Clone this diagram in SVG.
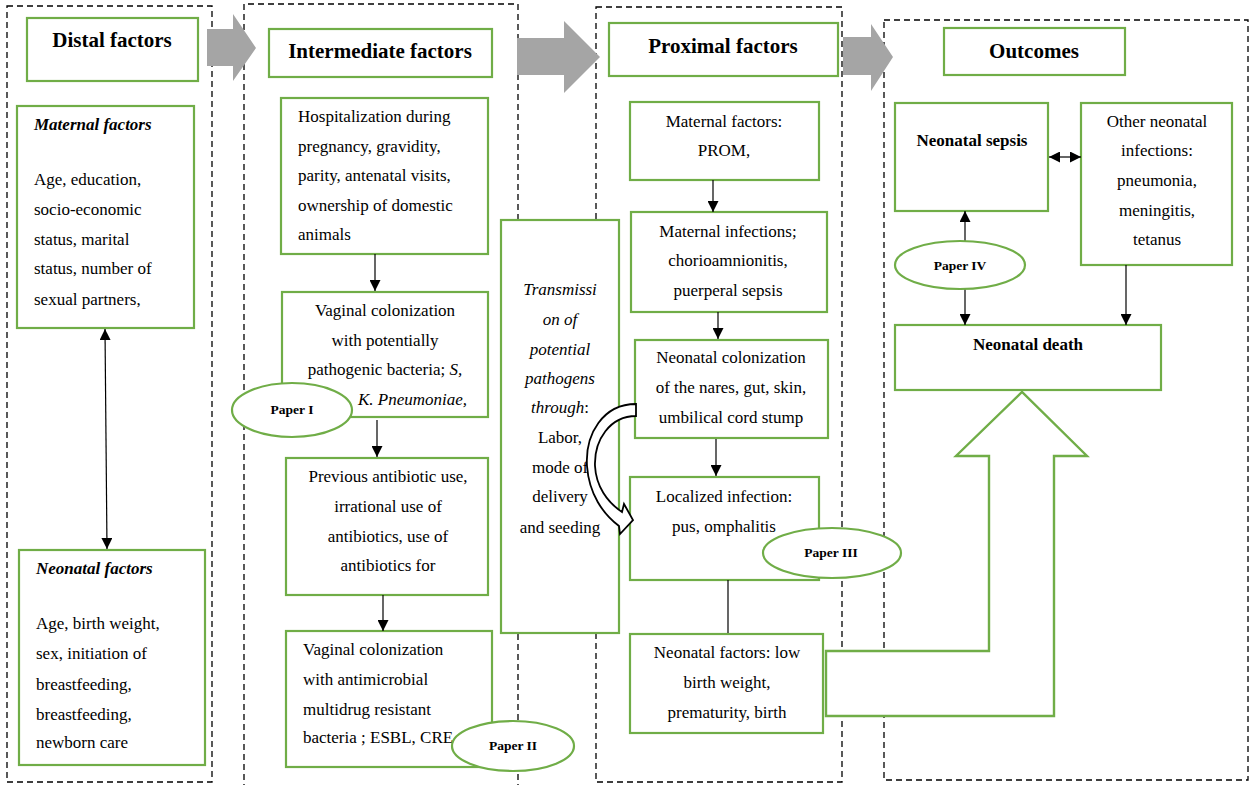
<svg xmlns="http://www.w3.org/2000/svg" width="1250" height="785" viewBox="0 0 1250 785">
<style>
text{font-family:"Liberation Serif","Times New Roman",serif;fill:#000}
.b{font-size:17px}
.h{font-size:21px;font-weight:bold}
.bb{font-size:17px;font-weight:bold}
.bi{font-size:17px;font-weight:bold;font-style:italic}
.i{font-style:italic}
.p{font-size:13.5px;font-weight:bold}
.m{text-anchor:middle}
.box{fill:#fff;stroke:#70AD47;stroke-width:2.2}
.dash{fill:none;stroke:#000;stroke-width:1.3;stroke-dasharray:6 4}
.gray{fill:#A5A5A5}
.ln{stroke:#000;stroke-width:1.2;fill:none}
</style>
<defs>
<marker id="ah" viewBox="0 0 10 10" refX="10" refY="5" markerUnits="userSpaceOnUse" markerWidth="11" markerHeight="11" orient="auto-start-reverse">
<path d="M0,0 L10,5 L0,10 z" fill="#000"/>
</marker>
</defs>
<rect width="1250" height="785" fill="#fff"/>

<g id="containers">
<rect class="dash" x="7" y="6" width="205" height="776"/>
<path class="dash" d="M244,790 V4 H518 V790"/>
<rect class="dash" x="596" y="7" width="246" height="775"/>
<rect class="dash" x="884" y="20" width="364" height="760"/>
</g>

<g id="stage-arrows">
<polygon class="gray" points="207,29 233,29 233,14 256,48 233,81 233,66 207,66"/>
<polygon class="gray" points="517,38 564,38 564,21 600,57 564,93 564,75 517,75"/>
<polygon class="gray" points="843,37 871,37 871,24 893,57 871,91 871,75 843,75"/>
</g>

<g id="hdr-distal"><rect class="box" x="27" y="18" width="171" height="63"/><text class="h m" x="112" y="47">Distal factors</text></g>
<g id="hdr-intermediate"><rect class="box" x="269" y="29" width="223" height="48"/><text class="h m" x="380" y="58">Intermediate factors</text></g>
<g id="hdr-proximal"><rect class="box" x="609" y="23" width="229" height="53"/><text class="h m" x="723" y="53">Proximal factors</text></g>
<g id="hdr-outcomes"><rect class="box" x="944" y="28" width="181" height="47"/><text class="h m" x="1034" y="58">Outcomes</text></g>

<g id="maternal-distal">
<rect class="box" x="17" y="106" width="177" height="222"/>
<text class="bi" x="34" y="130">Maternal factors</text>
<text class="b" x="34"><tspan x="34" y="185">Age, education,</tspan><tspan x="34" y="215">socio-economic</tspan><tspan x="34" y="245">status, marital</tspan><tspan x="34" y="274">status, number of</tspan><tspan x="34" y="305">sexual partners,</tspan></text>
</g>
<g id="neonatal-distal">
<rect class="box" x="19" y="550" width="186" height="215"/>
<text class="bi" x="36" y="574">Neonatal factors</text>
<text class="b" x="36"><tspan x="36" y="629">Age, birth weight,</tspan><tspan x="36" y="659">sex, initiation of</tspan><tspan x="36" y="690">breastfeeding,</tspan><tspan x="36" y="720">breastfeeding,</tspan><tspan x="36" y="748">newborn care</tspan></text>
</g>

<g id="hospitalization">
<rect class="box" x="281" y="98" width="207" height="156"/>
<text class="b" x="298"><tspan x="298" y="122">Hospitalization during</tspan><tspan x="298" y="152">pregnancy, gravidity,</tspan><tspan x="298" y="181">parity, antenatal visits,</tspan><tspan x="298" y="211">ownership of domestic</tspan><tspan x="298" y="240">animals</tspan></text>
</g>
<g id="vaginal-colonization">
<rect class="box" x="282" y="292" width="206" height="125"/>
<text class="b m" x="385" y="316">Vaginal colonization</text>
<text class="b m" x="385" y="346">with potentially</text>
<text class="b m" x="385" y="375">pathogenic bacteria; <tspan class="i">S,</tspan></text>
<text class="b i" x="358" y="405">K. Pneumoniae,</text>
</g>
<g id="antibiotic-use">
<rect class="box" x="286" y="458" width="202" height="137"/>
<text class="b m" x="388" y="482">Previous antibiotic use,</text>
<text class="b m" x="388" y="512">irrational use of</text>
<text class="b m" x="388" y="542">antibiotics, use of</text>
<text class="b m" x="388" y="571">antibiotics for</text>
</g>
<g id="mdr-colonization">
<rect class="box" x="286" y="631" width="206" height="136"/>
<text class="b" x="303"><tspan x="303" y="655">Vaginal colonization</tspan><tspan x="303" y="685">with antimicrobial</tspan><tspan x="303" y="715">multidrug resistant</tspan><tspan x="303" y="743">bacteria ; ESBL, CRE</tspan></text>
</g>

<g id="transmission">
<rect class="box" x="501" y="220" width="118" height="413" stroke-width="2.6"/>
<text class="b m i" x="560" y="295">Transmissi</text>
<text class="b m i" x="560" y="325">on of</text>
<text class="b m i" x="560" y="355">potential</text>
<text class="b m i" x="560" y="384">pathogens</text>
<text class="b m" x="560" y="413"><tspan class="i">through</tspan>:</text>
<text class="b m" x="560" y="443">Labor,</text>
<text class="b m" x="560" y="473">mode of</text>
<text class="b m" x="560" y="502">delivery</text>
<text class="b m" x="560" y="533">and seeding</text>
</g>

<g id="prom">
<rect class="box" x="630" y="102" width="189" height="78"/>
<text class="b m" x="724" y="127">Maternal factors:</text>
<text class="b m" x="724" y="156">PROM,</text>
</g>
<g id="maternal-infections">
<rect class="box" x="631" y="212" width="196" height="100"/>
<text class="b m" x="728" y="237">Maternal infections;</text>
<text class="b m" x="728" y="266">chorioamnionitis,</text>
<text class="b m" x="728" y="296">puerperal sepsis</text>
</g>
<g id="neonatal-colonization">
<rect class="box" x="635" y="340" width="193" height="98"/>
<text class="b m" x="731" y="363">Neonatal colonization</text>
<text class="b m" x="731" y="393">of the nares, gut, skin,</text>
<text class="b m" x="731" y="423">umbilical cord stump</text>
</g>
<g id="localized-infection">
<rect class="box" x="630" y="477" width="189" height="103"/>
<text class="b m" x="724" y="502">Localized infection:</text>
<text class="b m" x="724" y="532">pus, omphalitis</text>
</g>
<g id="neonatal-factors-prox">
<rect class="box" x="630" y="634" width="193" height="99"/>
<text class="b m" x="727" y="658">Neonatal factors: low</text>
<text class="b m" x="727" y="688">birth weight,</text>
<text class="b m" x="727" y="718">prematurity, birth</text>
</g>

<g id="big-arrow">
<polygon points="826,651 989,651 989,456 956,456 1022,392 1087,456 1054,456 1054,716 826,716" fill="#fff" stroke="#70AD47" stroke-width="2.4" stroke-linejoin="miter"/>
</g>

<g id="neonatal-sepsis">
<rect class="box" x="895" y="103" width="153" height="108"/>
<text class="bb m" x="972" y="146">Neonatal sepsis</text>
</g>
<g id="other-infections">
<rect class="box" x="1081" y="103" width="151" height="162"/>
<text class="b m" x="1157" y="127">Other neonatal</text>
<text class="b m" x="1157" y="156">infections:</text>
<text class="b m" x="1157" y="186">pneumonia,</text>
<text class="b m" x="1157" y="216">meningitis,</text>
<text class="b m" x="1157" y="245">tetanus</text>
</g>
<g id="neonatal-death">
<rect class="box" x="895" y="325" width="266" height="65"/>
<text class="bb m" x="1028" y="350">Neonatal death</text>
</g>

<g id="connectors">
<line class="ln" x1="105" y1="329" x2="107" y2="549" marker-start="url(#ah)" marker-end="url(#ah)"/>
<line class="ln" x1="375" y1="254" x2="375" y2="291" marker-end="url(#ah)"/>
<line class="ln" x1="377" y1="420" x2="377" y2="457" marker-end="url(#ah)"/>
<line class="ln" x1="383" y1="595" x2="383" y2="631" marker-end="url(#ah)"/>
<line class="ln" x1="713" y1="180" x2="713" y2="212" marker-end="url(#ah)"/>
<line class="ln" x1="718" y1="312" x2="718" y2="339" marker-end="url(#ah)"/>
<line class="ln" x1="716" y1="439" x2="716" y2="476" marker-end="url(#ah)"/>
<line class="ln" x1="728" y1="580" x2="728" y2="633"/>
<line class="ln" x1="1049" y1="157" x2="1081" y2="157" marker-start="url(#ah)" marker-end="url(#ah)"/>
<line class="ln" x1="965" y1="241" x2="965" y2="211" marker-end="url(#ah)"/>
<line class="ln" x1="965" y1="289" x2="965" y2="325" marker-end="url(#ah)"/>
<line class="ln" x1="1126" y1="265" x2="1126" y2="325" marker-end="url(#ah)"/>
<path d="M636,404 C603,404 585,434 587,466 C589,494 603,514 619,526 L620,534 L633,520 L624,504 L622,512 C607,502 596,486 595,466 C594,440 610,416 636,416 Z" fill="#fff" stroke="#000" stroke-width="1.8" stroke-linejoin="miter"/>
</g>

<g id="paper-1"><ellipse class="box" cx="292" cy="410" rx="60" ry="27"/><text class="p m" x="292" y="414">Paper I</text></g>
<g id="paper-2"><ellipse class="box" cx="513" cy="746" rx="61" ry="25"/><text class="p m" x="513" y="750">Paper II</text></g>
<g id="paper-3"><ellipse class="box" cx="832" cy="553" rx="69" ry="25"/><text class="p m" x="831" y="557">Paper III</text></g>
<g id="paper-4"><ellipse class="box" cx="960" cy="265" rx="65" ry="24"/><text class="p m" x="960" y="270">Paper IV</text></g>
</svg>
